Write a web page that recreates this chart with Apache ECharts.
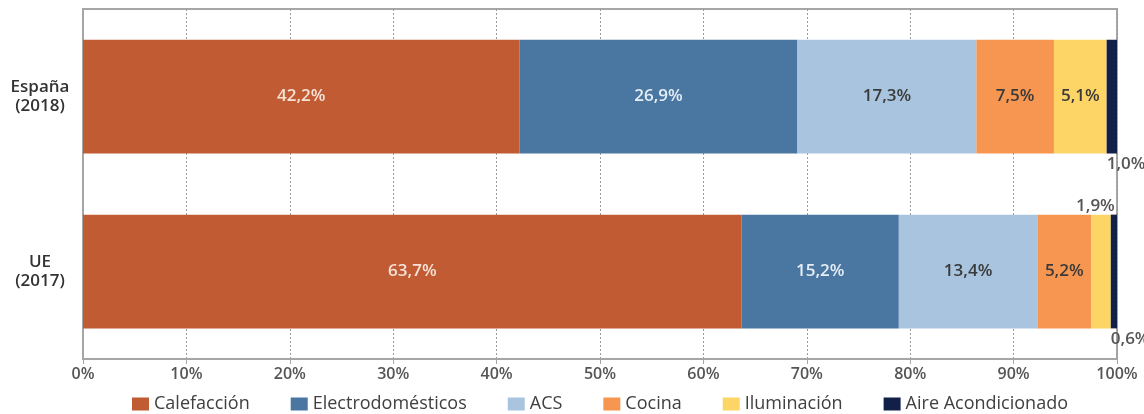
<!DOCTYPE html>
<html>
<head>
<meta charset="utf-8">
<script src="https://cdn.jsdelivr.net/npm/echarts@6/dist/echarts.min.js"></script>
<style>html,body{margin:0;padding:0;background:#fff;}#c{width:1144px;height:414px;}</style>
</head>
<body>
<div id="c"></div>
<script>
const categories = ['España\n(2018)', 'UE\n(2017)'];
const seriesNames = ['Calefacción', 'Electrodomésticos', 'ACS', 'Cocina', 'Iluminación', 'Aire Acondicionado'];
const calefaccion = [42.2, 63.7];
const electrodomesticos = [26.9, 15.2];
const acs = [17.3, 13.4];
const cocina = [7.5, 5.2];
const iluminacion = [5.1, 1.9];
const aire = [1.0, 0.6];
const xTicks = [0, 10, 20, 30, 40, 50, 60, 70, 80, 90, 100];

const colors = ['#C15B34', '#4A77A2', '#A9C4DF', '#F69651', '#FDD466', '#121F48'];
const labelColors = ['#f6e2d6', '#e6edf5', '#3a3a3a', '#3a3a3a', '#3a3a3a', '#3a3a3a'];
const FONT = 'Open Sans';
const fmt = v => v.toFixed(1).replace('.', ',') + '%';

const values = [calefaccion, electrodomesticos, acs, cocina, iluminacion, aire];

const series = values.map((arr, i) => ({
  name: seriesNames[i],
  type: 'bar',
  stack: 'total',
  barWidth: '65%',
  itemStyle: { color: colors[i] },
  label: {
    show: true,
    position: 'inside',
    color: labelColors[i],
    fontFamily: FONT,
    fontWeight: 600,
    fontSize: 17,
    formatter: p => fmt(p.value)
  },
  data: arr.map((v, j) => {
    const d = { value: v };
    if (i === 5) {
      d.label = { position: ['0%', '100%'], align: 'left', verticalAlign: 'top', offset: [0, 2], color: '#555' };
    } else if (i === 4 && j === 1) {
      d.label = { position: ['100%', '0%'], align: 'right', verticalAlign: 'bottom', offset: [4, 0], color: '#555' };
    }
    return d;
  })
}));

const chart = echarts.init(document.getElementById('c'), null, { renderer: 'canvas' });
chart.setOption({
  animation: false,
  backgroundColor: '#fff',
  grid: { left: 83, right: 27, top: 9, bottom: 55, show: true, borderColor: '#a6a6a6', borderWidth: 2, backgroundColor: 'transparent' },
  legend: {
    top: 390,
    left: 127,
    itemWidth: 17,
    itemHeight: 13,
    itemGap: 41,
    icon: 'rect',
    textStyle: { fontFamily: FONT, fontSize: 18, color: '#404040' },
    data: seriesNames
  },
  xAxis: {
    type: 'value',
    min: xTicks[0],
    max: xTicks[xTicks.length - 1],
    interval: 10,
    axisLine: { show: true, lineStyle: { color: '#a6a6a6', width: 2 } },
    axisTick: { show: true, length: 5, lineStyle: { color: '#a6a6a6' } },
    axisLabel: { fontFamily: FONT, fontWeight: 600, fontSize: 16, color: '#555', margin: 7, formatter: '{value}%' },
    splitLine: { show: true, lineStyle: { color: '#9a9a9a', type: [2, 2], width: 1 } }
  },
  yAxis: {
    type: 'category',
    inverse: true,
    data: categories,
    axisLine: { show: true, lineStyle: { color: '#a6a6a6', width: 2 } },
    axisTick: { show: false },
    axisLabel: { fontFamily: FONT, fontWeight: 600, fontSize: 17, color: '#333', lineHeight: 19, align: 'center', margin: 43 }
  },
  series: series
});
</script>
</body>
</html>
